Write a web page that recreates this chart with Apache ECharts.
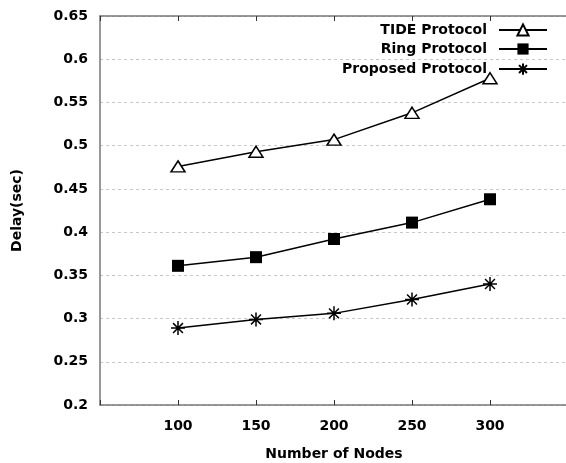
<!DOCTYPE html>
<html>
<head>
<meta charset="utf-8">
<script src="https://cdn.jsdelivr.net/npm/echarts@6/dist/echarts.min.js"></script>
<style>
  html, body { margin: 0; padding: 0; background: #fff; }
  #chart { width: 566px; height: 463px; }
</style>
</head>
<body>
<div id="chart"></div>
<script>
// Delay versus network size for three protocols
const nodes = [100, 150, 200, 250, 300];
const tideDelay = [0.476, 0.493, 0.507, 0.538, 0.578];
const ringDelay = [0.361, 0.371, 0.392, 0.411, 0.438];
const proposedDelay = [0.289, 0.299, 0.306, 0.322, 0.340];
const seriesNames = ['TIDE Protocol', 'Ring Protocol', 'Proposed Protocol'];

const FONT = 'DejaVu Sans';
const FS = 14;
const asterisk = 'path://M0,-10L0,10M-10,0L10,0M-7.07,-7.07L7.07,7.07M-7.07,7.07L7.07,-7.07';

function pairs(vals) {
  return nodes.map((n, i) => [n, vals[i]]);
}

const chart = echarts.init(document.getElementById('chart'), null, { renderer: 'canvas' });

const lineStyle = { color: '#000', width: 1.5 };
const boldText = { fontFamily: FONT, fontWeight: 'bold', fontSize: FS, color: '#000' };

chart.setOption({
  animation: false,
  backgroundColor: '#fff',
  textStyle: { fontFamily: FONT },
  grid: { left: 100, top: 16, right: -2, bottom: 58, containLabel: false, outerBoundsMode: 'none' },
  legend: {
    orient: 'vertical',
    align: 'right',
    right: 18,
    top: 23,
    padding: 0,
    itemWidth: 48,
    itemHeight: 14,
    itemGap: 5,
    textStyle: Object.assign({}, boldText, { padding: [0, 7, 0, 0] }),
    data: seriesNames
  },
  xAxis: [{
    type: 'value',
    min: 50, max: 350, interval: 50,
    name: 'Number of Nodes',
    nameLocation: 'middle',
    nameGap: 42,
    nameTextStyle: boldText,
    axisLine: { show: true, lineStyle: { color: '#777', width: 1.5 } },
    axisTick: { show: true, inside: true, length: 5, lineStyle: { color: '#333' } },
    axisLabel: Object.assign({
      margin: 14,
      formatter: v => (v >= 100 && v <= 300) ? String(v) : ''
    }, boldText),
    splitLine: { show: false }
  }, {
    type: 'value',
    position: 'top',
    min: 50, max: 350, interval: 50,
    axisLine: { show: true, onZero: false, lineStyle: { color: '#777', width: 1.5 } },
    axisTick: { show: true, inside: true, length: 5, lineStyle: { color: '#333' } },
    axisLabel: { show: false },
    splitLine: { show: false }
  }],
  yAxis: {
    type: 'value',
    min: 0.2, max: 0.65, interval: 0.05,
    name: 'Delay(sec)',
    nameLocation: 'middle',
    nameGap: 76,
    nameTextStyle: boldText,
    axisLine: { show: true, lineStyle: { color: '#777', width: 1.5 } },
    axisTick: { show: false },
    axisLabel: Object.assign({
      margin: 12,
      formatter: v => String(parseFloat(v.toFixed(2)))
    }, boldText),
    splitLine: { show: true, lineStyle: { color: '#c8c8c8', type: [3, 3], width: 1 } }
  },
  series: [{
    name: seriesNames[0],
    type: 'line',
    data: pairs(tideDelay),
    symbol: 'triangle',
    symbolSize: [14, 11],
    itemStyle: { color: '#fff', borderColor: '#000', borderWidth: 1.5 },
    lineStyle,
    z: 3
  }, {
    name: seriesNames[1],
    type: 'line',
    data: pairs(ringDelay),
    symbol: 'rect',
    symbolSize: 12,
    itemStyle: { color: '#000', borderColor: '#000', borderWidth: 0 },
    lineStyle,
    z: 3
  }, {
    name: seriesNames[2],
    type: 'line',
    data: pairs(proposedDelay),
    symbol: asterisk,
    symbolSize: 14,
    itemStyle: { color: 'none', borderColor: '#000', borderWidth: 1.5 },
    lineStyle,
    z: 3
  }]
});
</script>
</body>
</html>
